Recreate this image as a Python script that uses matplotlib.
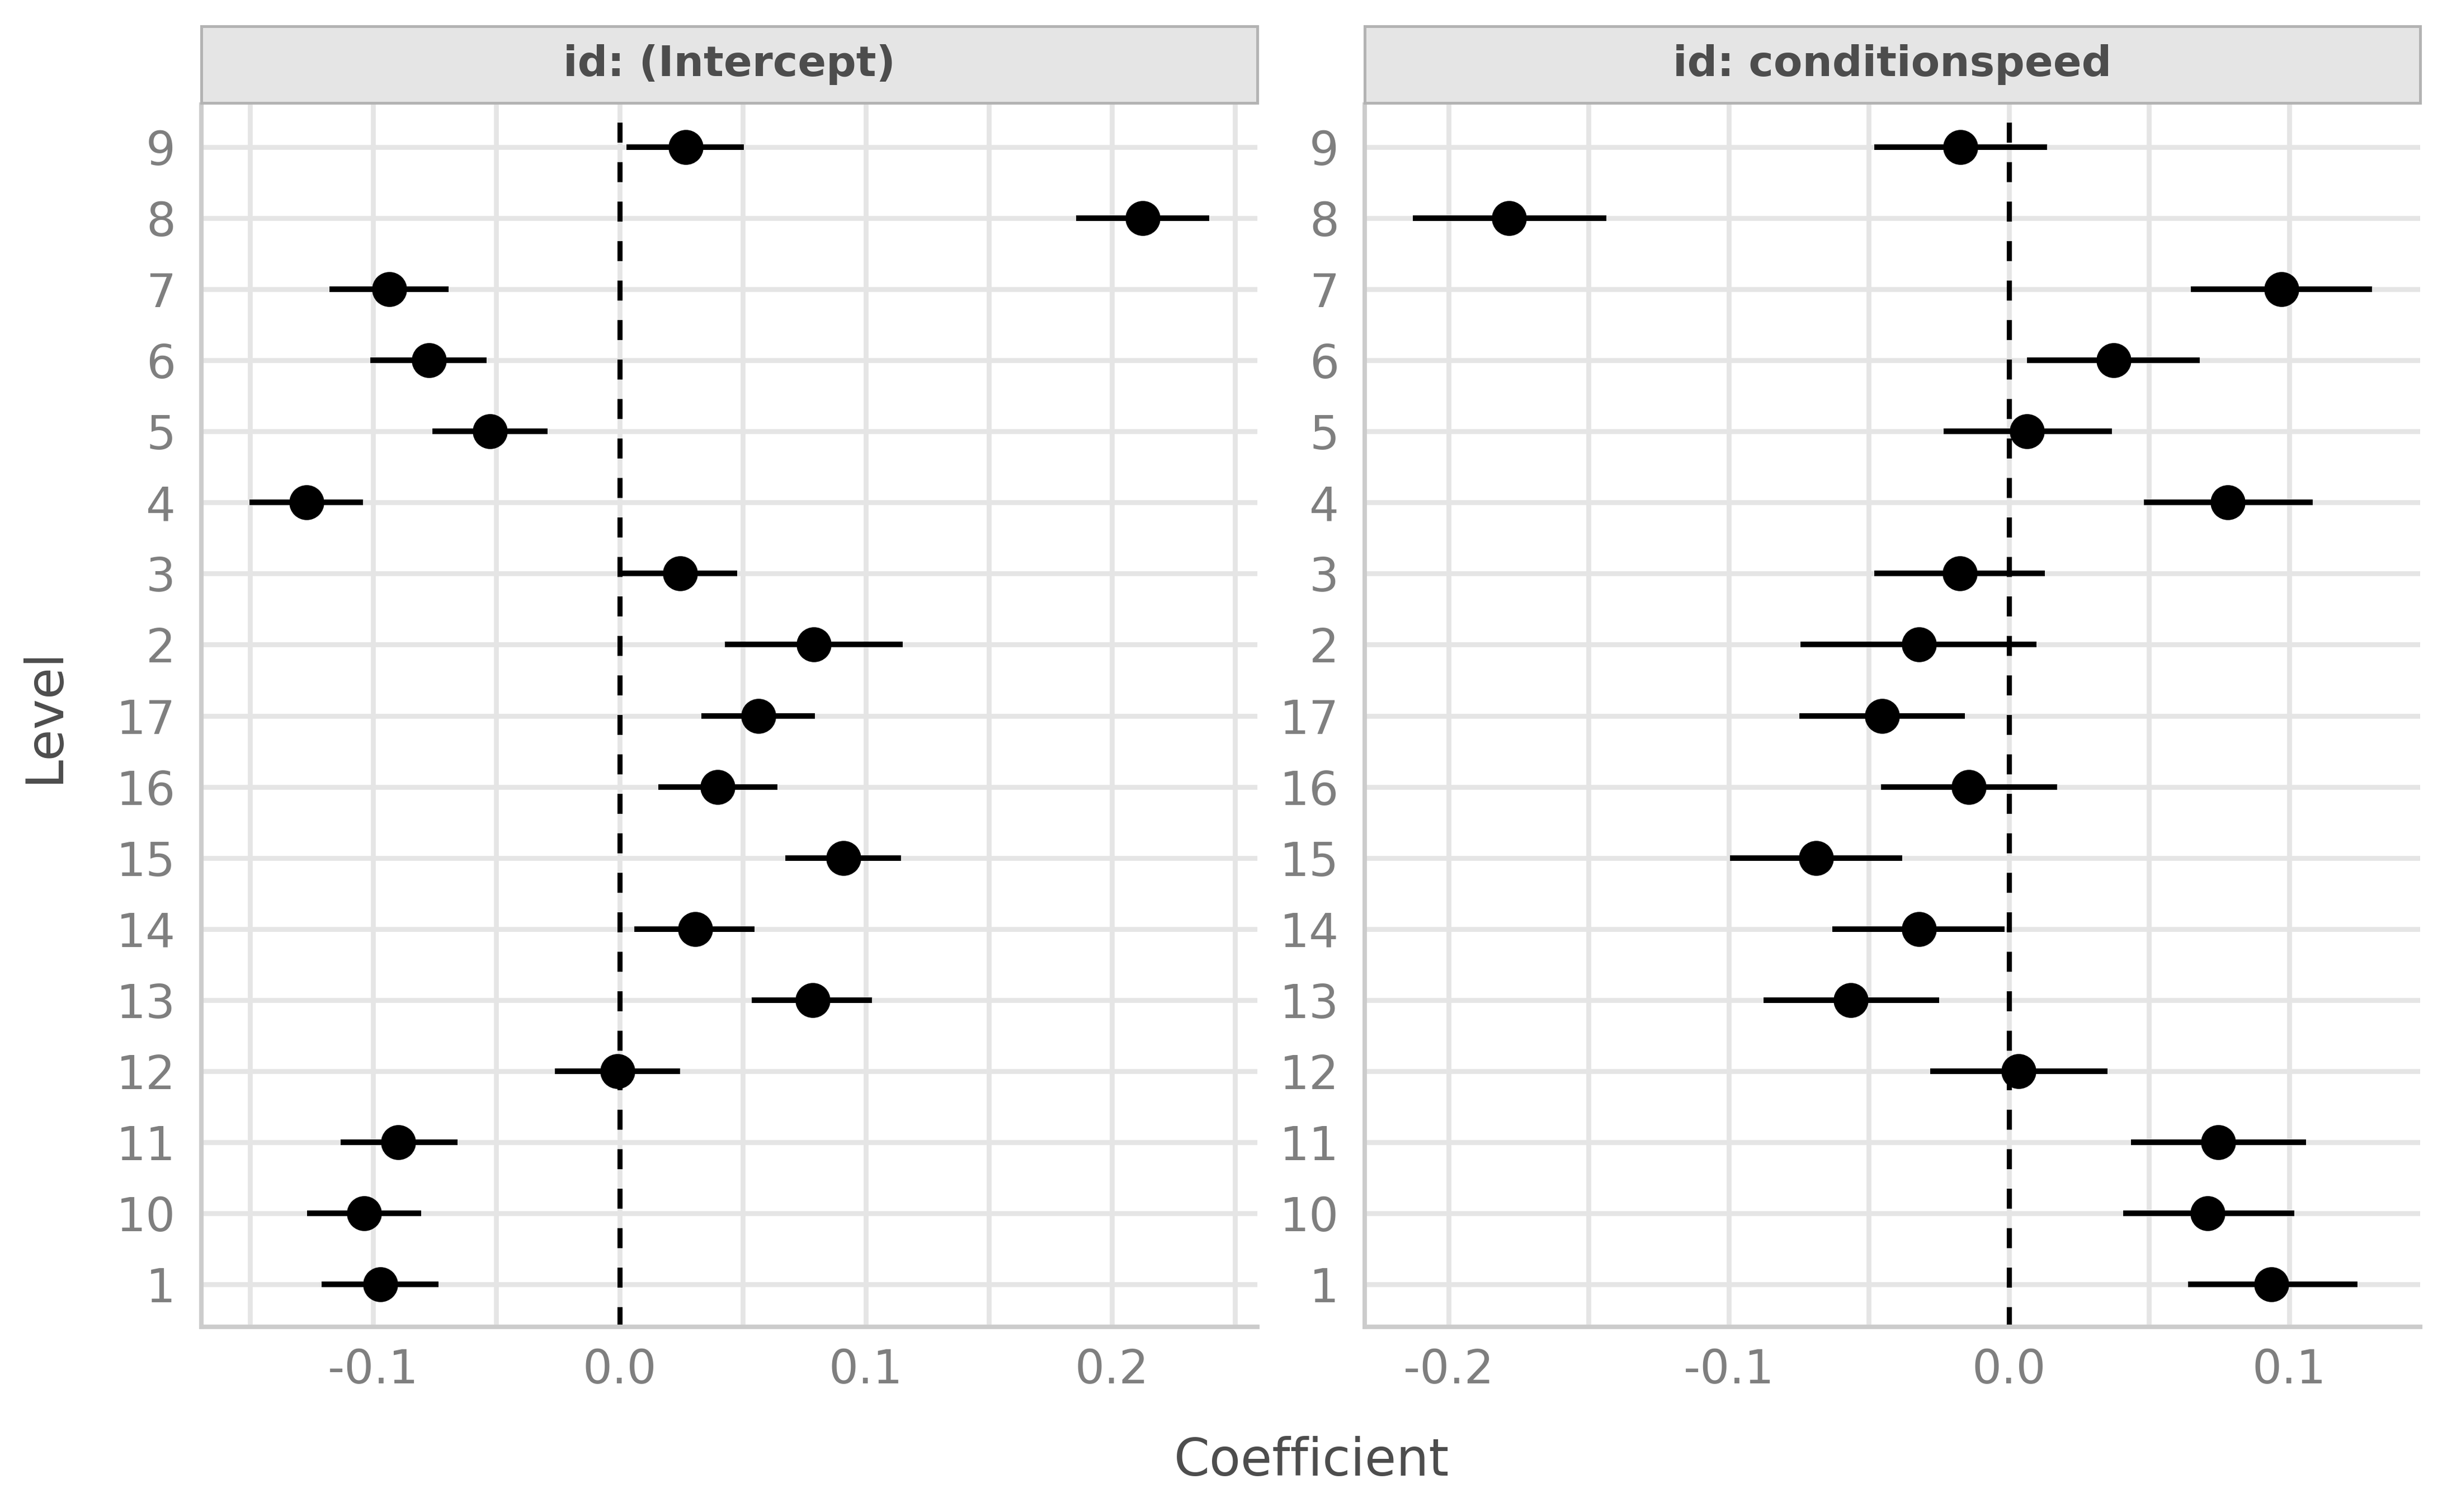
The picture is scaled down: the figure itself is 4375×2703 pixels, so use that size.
import numpy as np
import matplotlib
matplotlib.use("Agg")
import matplotlib.pyplot as plt
from matplotlib.ticker import MultipleLocator

# levels from bottom to top (ggplot sorts them as strings)
levels = ["1", "10", "11", "12", "13", "14", "15", "16", "17",
          "2", "3", "4", "5", "6", "7", "8", "9"]

# id: (Intercept)
int_est = [-0.0972, -0.1037, -0.0898, -0.0008, 0.0785, 0.0308, 0.0910, 0.0398, 0.0565,
           0.0788, 0.0246, -0.1271, -0.0525, -0.0774, -0.0935, 0.2124, 0.0268]
int_lo = [-0.1209, -0.1268, -0.1133, -0.0263, 0.0537, 0.0059, 0.0672, 0.0158, 0.0333,
          0.0427, 0.0011, -0.1503, -0.0760, -0.1011, -0.1178, 0.1853, 0.0028]
int_hi = [-0.0734, -0.0805, -0.0658, 0.0246, 0.1025, 0.0548, 0.1144, 0.0641, 0.0794,
          0.1150, 0.0477, -0.1042, -0.0291, -0.0540, -0.0695, 0.2395, 0.0506]

# id: conditionspeed
spd_est = [0.0937, 0.0709, 0.0746, 0.0035, -0.0565, -0.0322, -0.0688, -0.0143, -0.0452,
           -0.0322, -0.0176, 0.0781, 0.0065, 0.0374, 0.0972, -0.1784, -0.0173]
spd_lo = [0.0638, 0.0407, 0.0435, -0.0281, -0.0877, -0.0631, -0.0995, -0.0457, -0.0749,
          -0.0744, -0.0480, 0.0482, -0.0234, 0.0065, 0.0648, -0.2128, -0.0480]
spd_hi = [0.1244, 0.1018, 0.1060, 0.0352, -0.0249, -0.0015, -0.0382, 0.0171, -0.0158,
          0.0098, 0.0128, 0.1083, 0.0367, 0.0681, 0.1296, -0.1437, 0.0136]

panels = [
    ("id: (Intercept)", int_est, int_lo, int_hi),
    ("id: conditionspeed", spd_est, spd_lo, spd_hi),
]

W, H = 4375, 2703
fig = plt.figure(figsize=(W / 300, H / 300), dpi=300)

grid_col = "#E5E5E5"
axis_col = "#CCCCCC"
tick_col = "#7F7F7F"
title_col = "#4D4D4D"

panel_x = [(360, 2248), (2440, 4327)]
top, bottom = 187, 2372
strip_top, strip_bot = 47, 184

y = np.arange(len(levels))

for (name, est, lo, hi), (x0, x1) in zip(panels, panel_x):
    ax = fig.add_axes([x0 / W, 1 - bottom / H, (x1 - x0) / W, (bottom - top) / H])
    ax.set_facecolor("white")

    ax.axvline(0, color="black", lw=2.2, linestyle=(0, (3.9, 3.8)), zorder=2)
    ax.hlines(y, lo, hi, color="black", lw=2.4, zorder=3)
    ax.plot(est, y, "o", color="black", ms=14, zorder=4)

    # 5% expansion like ggplot
    dmin, dmax = min(lo), max(hi)
    pad = 0.05 * (dmax - dmin)
    ax.set_xlim(dmin - pad, dmax + pad)
    ax.set_ylim(-0.6, len(levels) - 0.4)

    ax.xaxis.set_major_locator(MultipleLocator(0.1))
    ax.xaxis.set_minor_locator(MultipleLocator(0.05))
    ax.xaxis.set_major_formatter(lambda v, p: f"{v:.1f}")
    ax.set_yticks(y)
    ax.set_yticklabels(levels)

    ax.grid(which="both", axis="x", color=grid_col, lw=2.1, zorder=0)
    ax.grid(which="major", axis="y", color=grid_col, lw=2.1, zorder=0)
    ax.set_axisbelow(True)

    ax.tick_params(axis="both", which="both", length=0, labelsize=20, labelcolor=tick_col)
    ax.tick_params(axis="y", pad=11)
    ax.tick_params(axis="x", pad=9)

    for s in ["top", "right"]:
        ax.spines[s].set_visible(False)
    for s in ["left", "bottom"]:
        ax.spines[s].set_color(axis_col)
        ax.spines[s].set_linewidth(1.9)

    # facet strip
    sax = fig.add_axes([x0 / W, 1 - strip_bot / H, (x1 - x0) / W, (strip_bot - strip_top) / H])
    sax.set_facecolor("#E5E5E5")
    sax.set_xticks([])
    sax.set_yticks([])
    for s in sax.spines.values():
        s.set_color("#B3B3B3")
        s.set_linewidth(1.2)
    sax.text(0.5, 0.5, name, ha="center", va="center", fontsize=18,
             fontweight="bold", color=title_col, transform=sax.transAxes)

fig.text(79 / W, 1 - (top + bottom) / 2 / H, "Level", rotation=90,
         ha="center", va="center", fontsize=22, color=title_col)
fig.text(2345 / W, 1 - 2638 / H, "Coefficient", ha="center", va="baseline",
         fontsize=22, color=title_col)

fig.savefig("out.png", dpi=300, facecolor="white")
